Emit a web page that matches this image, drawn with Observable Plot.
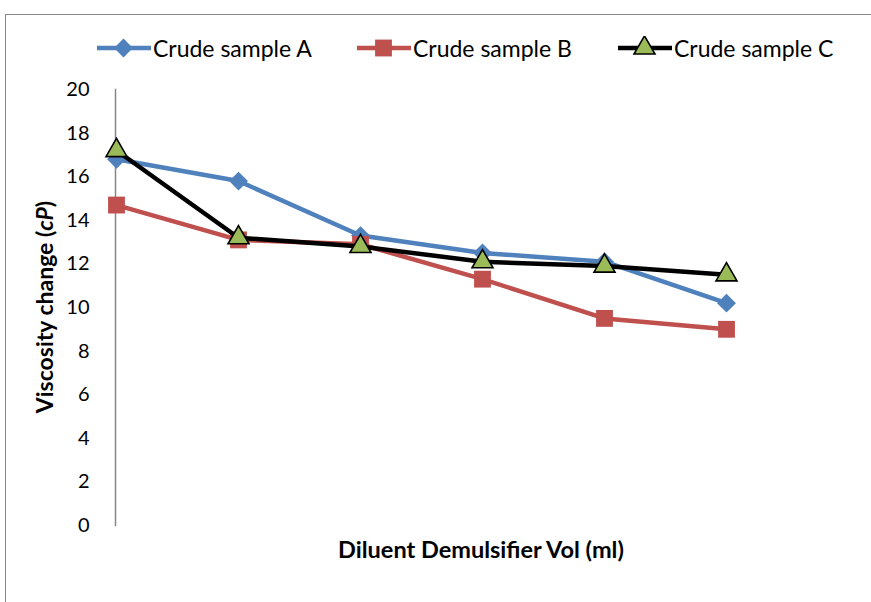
<!DOCTYPE html>
<html>
<head>
<meta charset="utf-8">
<script src="https://cdn.jsdelivr.net/npm/d3@7"></script>
<script src="https://cdn.jsdelivr.net/npm/@observablehq/plot@0.6"></script>
<style>
  body { margin: 0; background: #fff; }
  #wrap { position: relative; width: 871px; height: 602px; overflow: hidden; font-family: Lato, "Open Sans", sans-serif; }
  #frame { position: absolute; left: 5px; top: 14px; width: 900px; height: 700px; border: 1.5px solid #878787; box-sizing: border-box; }
  .item { position: absolute; top: 48px; transform: translateY(-50%); display: flex; align-items: center; font-size: 23px; color: #000; white-space: nowrap; }
  .item svg { display: block; margin-right: 2px; }
  #ylabel { position: absolute; left: 44px; top: 307px; transform: translate(-50%, -50%) rotate(-90deg); font-weight: bold; font-size: 23px; white-space: nowrap; }
  #xlabel { position: absolute; left: 481px; top: 549px; transform: translate(-50%, -50%); font-weight: bold; font-size: 23.5px; white-space: nowrap; }
  #plot { position: absolute; left: 0; top: 0; }
</style>
</head>
<body>
<div id="wrap">
  <div id="frame"></div>
  <div id="plot"></div>
  <div id="legend"></div>
  <div id="ylabel">Viscosity change (<i>cP</i>)</div>
  <div id="xlabel">Diluent Demulsifier Vol (ml)</div>
</div>
<script>
const categories = [1, 2, 3, 4, 5, 6];
const seriesNames = ["Crude sample A", "Crude sample B", "Crude sample C"];
const sampleA = [16.8, 15.8, 13.3, 12.5, 12.1, 10.2];
const sampleB = [14.7, 13.1, 12.9, 11.3, 9.5, 9.0];
const sampleC = [17.2, 13.2, 12.8, 12.1, 11.9, 11.5];
const yTicks = [0, 2, 4, 6, 8, 10, 12, 14, 16, 18, 20];

const styles = [
  {line: "#4F81BD", fill: "#4F81BD", stroke: "none", symbol: "diamond2", r: 8.5, left: 97},
  {line: "#C0504D", fill: "#C0504D", stroke: "none", symbol: "square", r: 9.5, left: 357},
  {line: "#000000", fill: "#9BBB59", stroke: "#000", symbol: "triangle", r: 7.8, left: 618}
];
const values = [sampleA, sampleB, sampleC];
const rows = values.map((vals, s) => categories.map((c, i) => ({x: c, y: vals[i], s})));

const marks = [
  Plot.frame({anchor: "left", stroke: "#878787", strokeWidth: 1.5}),
  Plot.axisY({ticks: yTicks, tickSize: 0, tickPadding: 26, fontSize: 20, label: null}),
  Plot.axisX({ticks: [], label: null})
];
rows.forEach((data, s) => {
  const st = styles[s];
  marks.push(Plot.line(data, {x: "x", y: "y", stroke: st.line, strokeWidth: 4.5}));
  marks.push(Plot.dot(data, {x: "x", y: "y", symbol: () => st.symbol, fill: st.fill, stroke: st.stroke, strokeWidth: st.stroke === "none" ? 0 : 1.6, r: st.r}));
});

const chart = Plot.plot({
  width: 871,
  height: 602,
  marginLeft: 115,
  marginRight: 144,
  marginTop: 89,
  marginBottom: 77,
  style: {background: "transparent", fontFamily: "Lato, 'Open Sans', sans-serif", color: "#000"},
  x: {type: "point", domain: categories, padding: 0},
  y: {domain: [0, 20]},
  symbol: {type: "identity"},
  marks
});
document.getElementById("plot").appendChild(chart);

// legend
const legend = document.getElementById("legend");
seriesNames.forEach((name, s) => {
  const st = styles[s];
  const item = document.createElement("div");
  item.className = "item";
  item.style.left = st.left + "px";
  const sw = d3.create("svg").attr("width", 54).attr("height", 24);
  sw.append("line").attr("x1", 0).attr("x2", 54).attr("y1", 12).attr("y2", 12).attr("stroke", st.line).attr("stroke-width", 4.5);
  const sym = {diamond2: d3.symbolDiamond2, square: d3.symbolSquare, triangle: d3.symbolTriangle}[st.symbol];
  sw.append("path").attr("transform", "translate(26.5,12)")
    .attr("d", d3.symbol(sym, Math.PI * st.r * st.r)())
    .attr("fill", st.fill).attr("stroke", st.stroke === "none" ? null : st.stroke).attr("stroke-width", 1.6);
  item.appendChild(sw.node());
  const t = document.createElement("span");
  t.textContent = name;
  item.appendChild(t);
  legend.appendChild(item);
});
</script>
</body>
</html>
